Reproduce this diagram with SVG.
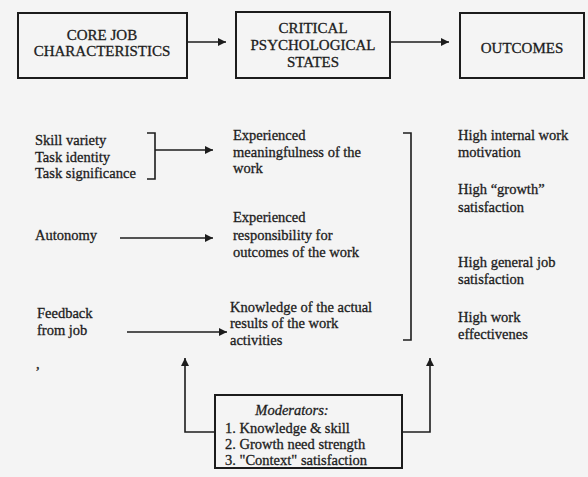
<svg xmlns="http://www.w3.org/2000/svg" width="588" height="477" viewBox="0 0 588 477">
<style>
  text { font-family: "Liberation Serif", "DejaVu Serif", serif; fill: #1c1c1c; stroke: #1c1c1c; stroke-width: 0.3; }
  .cap { font-size: 15px; }
  .t { font-size: 14.5px; }
  .box { fill: none; stroke: #1c1c1c; stroke-width: 2; }
  .ln { fill: none; stroke: #1c1c1c; stroke-width: 1.6; }
</style>
<defs>
  <marker id="ah" viewBox="0 0 10 10" refX="10" refY="5" markerWidth="10" markerHeight="8" markerUnits="userSpaceOnUse" orient="auto">
    <path d="M0,0 L10,5 L0,10 z" fill="#1c1c1c"/>
  </marker>
</defs>
<rect x="0" y="0" width="588" height="477" fill="#f4f4f4"/>

<g id="core">
  <rect class="box" x="18" y="13" width="169" height="65"/>
  <text class="cap" x="102" y="40" text-anchor="middle">CORE JOB</text>
  <text class="cap" x="102" y="56" text-anchor="middle">CHARACTERISTICS</text>
</g>
<g id="critical">
  <rect class="box" x="236" y="12" width="154" height="66"/>
  <text class="cap" x="313" y="33" text-anchor="middle">CRITICAL</text>
  <text class="cap" x="313" y="50" text-anchor="middle">PSYCHOLOGICAL</text>
  <text class="cap" x="313" y="67" text-anchor="middle">STATES</text>
</g>
<g id="outcomes">
  <rect class="box" x="460" y="13" width="124" height="65"/>
  <text class="cap" x="522" y="53" text-anchor="middle">OUTCOMES</text>
</g>

<g id="skills">
  <text class="t" x="35" y="145">Skill variety</text>
  <text class="t" x="35" y="162">Task identity</text>
  <text class="t" x="35" y="178">Task significance</text>
</g>
<g id="autonomy">
  <text class="t" x="35" y="240">Autonomy</text>
</g>
<g id="feedback">
  <text class="t" x="37" y="318">Feedback</text>
  <text class="t" x="37" y="335">from job</text>
  <text class="t" x="36" y="369">,</text>
</g>

<g id="meaningfulness">
  <text class="t" x="233" y="140">Experienced</text>
  <text class="t" x="233" y="157">meaningfulness of the</text>
  <text class="t" x="233" y="173">work</text>
</g>
<g id="responsibility">
  <text class="t" x="233" y="222">Experienced</text>
  <text class="t" x="233" y="240">responsibility for</text>
  <text class="t" x="233" y="257">outcomes of the work</text>
</g>
<g id="knowledge">
  <text class="t" x="230" y="312">Knowledge of the actual</text>
  <text class="t" x="230" y="328">results of the work</text>
  <text class="t" x="230" y="345">activities</text>
</g>

<g id="motivation">
  <text class="t" x="458" y="140">High internal work</text>
  <text class="t" x="458" y="157">motivation</text>
</g>
<g id="growth">
  <text class="t" x="458" y="194">High “growth”</text>
  <text class="t" x="458" y="212">satisfaction</text>
</g>
<g id="jobsat">
  <text class="t" x="458" y="267">High general job</text>
  <text class="t" x="458" y="284">satisfaction</text>
</g>
<g id="effectiveness">
  <text class="t" x="458" y="322">High work</text>
  <text class="t" x="458" y="339">effectivenes</text>
</g>

<g id="moderators">
  <rect class="box" x="215" y="395" width="187" height="73"/>
  <text class="t" x="292" y="415" text-anchor="middle" font-style="italic">Moderators:</text>
  <text class="t" x="225" y="433">1. Knowledge &amp; skill</text>
  <text class="t" x="225" y="449">2. Growth need strength</text>
  <text class="t" x="225" y="465">3. "Context" satisfaction</text>
</g>

<g id="connectors">
  <path class="ln" d="M187,42 H226" marker-end="url(#ah)"/>
  <path class="ln" d="M390,42 H449" marker-end="url(#ah)"/>
  <path class="ln" d="M147,133 H155 V179 H147"/>
  <path class="ln" d="M155,150 H213" marker-end="url(#ah)"/>
  <path class="ln" d="M120,238 H213" marker-end="url(#ah)"/>
  <path class="ln" d="M127,332 H227" marker-end="url(#ah)"/>
  <path class="ln" d="M403,133 H411 V340 H403"/>
  <path class="ln" d="M215,432 H185 V358" marker-end="url(#ah)"/>
  <path class="ln" d="M402,432 H430 V358" marker-end="url(#ah)"/>
</g>
</svg>
